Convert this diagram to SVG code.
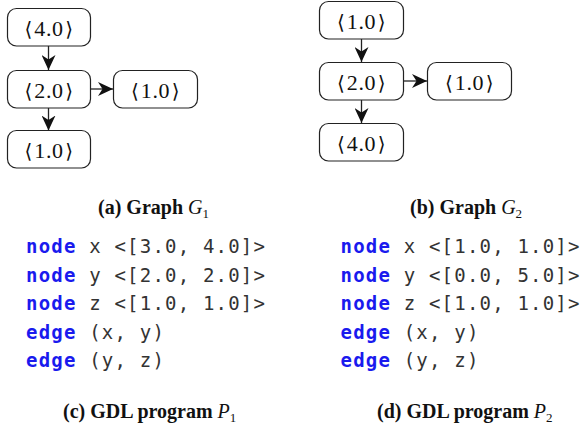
<svg xmlns="http://www.w3.org/2000/svg" width="580" height="434" viewBox="0 0 580 434">
<style>
.box{fill:#fff;stroke:#222;stroke-width:1.2}
.lbl{font-family:"Liberation Serif",serif;font-size:22px;fill:#111;text-anchor:middle;letter-spacing:0.6px}
.br{font-family:"DejaVu Serif",serif;font-size:20px}
.edge{stroke:#222;stroke-width:1.3;fill:none;marker-end:url(#ah)}
.cap{font-family:"Liberation Serif","DejaVu Serif",serif;font-size:20px;font-weight:bold;fill:#111}
.it{font-style:italic;font-weight:normal}
.sub{font-size:13px;font-weight:normal}
.code{font-family:"DejaVu Sans Mono",monospace;font-size:19px;letter-spacing:1.2px;fill:#333;white-space:pre}
.kw{fill:#1a1aee;font-weight:bold}
</style>
<defs>
<marker id="ah" viewBox="0 0 15 14" refX="15" refY="7" markerWidth="15" markerHeight="14" markerUnits="userSpaceOnUse" orient="auto">
<path d="M0,0 L15,7 L0,14 L4.5,7 Z" fill="#111"/>
</marker>
</defs>
<g id="connectors">
<line class="edge" x1="48.5" y1="46" x2="48.5" y2="70"/>
<line class="edge" x1="90.5" y1="89" x2="113" y2="89"/>
<line class="edge" x1="48.5" y1="108" x2="48.5" y2="130.5"/>
<line class="edge" x1="361.5" y1="39" x2="361.5" y2="62"/>
<line class="edge" x1="403.5" y1="81" x2="427" y2="81"/>
<line class="edge" x1="361.5" y1="100" x2="361.5" y2="123"/>
</g>
<g id="g1_n1"><rect class="box" x="7.5" y="8.5" width="83" height="37.5" rx="9"/><text class="lbl" x="49" y="35.5"><tspan class="br">⟨</tspan><tspan dx="1.5">4.0</tspan><tspan class="br" dx="1.5">⟩</tspan></text></g>
<g id="g1_n2"><rect class="box" x="7.5" y="70.5" width="83" height="37.5" rx="9"/><text class="lbl" x="49" y="97.5"><tspan class="br">⟨</tspan><tspan dx="1.5">2.0</tspan><tspan class="br" dx="1.5">⟩</tspan></text></g>
<g id="g1_n3"><rect class="box" x="113.5" y="70.5" width="84" height="37.5" rx="9"/><text class="lbl" x="155.5" y="97.5"><tspan class="br">⟨</tspan><tspan dx="1.5">1.0</tspan><tspan class="br" dx="1.5">⟩</tspan></text></g>
<g id="g1_n4"><rect class="box" x="7.5" y="130.5" width="83" height="37.5" rx="9"/><text class="lbl" x="49" y="157.5"><tspan class="br">⟨</tspan><tspan dx="1.5">1.0</tspan><tspan class="br" dx="1.5">⟩</tspan></text></g>
<g id="g2_n1"><rect class="box" x="319.5" y="1.5" width="84" height="37.5" rx="9"/><text class="lbl" x="361.5" y="28.5"><tspan class="br">⟨</tspan><tspan dx="1.5">1.0</tspan><tspan class="br" dx="1.5">⟩</tspan></text></g>
<g id="g2_n2"><rect class="box" x="319.5" y="62.5" width="84" height="37.5" rx="9"/><text class="lbl" x="361.5" y="89.5"><tspan class="br">⟨</tspan><tspan dx="1.5">2.0</tspan><tspan class="br" dx="1.5">⟩</tspan></text></g>
<g id="g2_n3"><rect class="box" x="427.5" y="62.5" width="84" height="37.5" rx="9"/><text class="lbl" x="469.5" y="89.5"><tspan class="br">⟨</tspan><tspan dx="1.5">1.0</tspan><tspan class="br" dx="1.5">⟩</tspan></text></g>
<g id="g2_n4"><rect class="box" x="319.5" y="123.5" width="84" height="37.5" rx="9"/><text class="lbl" x="361.5" y="150.5"><tspan class="br">⟨</tspan><tspan dx="1.5">4.0</tspan><tspan class="br" dx="1.5">⟩</tspan></text></g>
<g id="captions">
<text class="cap" x="98" y="214">(a) Graph <tspan class="it">G</tspan><tspan class="sub" dy="4">1</tspan></text>
<text class="cap" x="410" y="214">(b) Graph <tspan class="it">G</tspan><tspan class="sub" dy="4">2</tspan></text>
<text class="cap" x="63" y="418">(c) GDL program <tspan class="it">P</tspan><tspan class="sub" dy="4">1</tspan></text>
<text class="cap" x="377" y="418">(d) GDL program <tspan class="it">P</tspan><tspan class="sub" dy="4">2</tspan></text>
</g>
<g id="program1" class="code">
<text x="26" y="253"><tspan class="kw">node</tspan> x &lt;[3.0, 4.0]&gt;</text>
<text x="26" y="281.5"><tspan class="kw">node</tspan> y &lt;[2.0, 2.0]&gt;</text>
<text x="26" y="310"><tspan class="kw">node</tspan> z &lt;[1.0, 1.0]&gt;</text>
<text x="26" y="338.5"><tspan class="kw">edge</tspan> (x, y)</text>
<text x="26" y="367"><tspan class="kw">edge</tspan> (y, z)</text>
</g>
<g id="program2" class="code">
<text x="340.5" y="253"><tspan class="kw">node</tspan> x &lt;[1.0, 1.0]&gt;</text>
<text x="340.5" y="281.5"><tspan class="kw">node</tspan> y &lt;[0.0, 5.0]&gt;</text>
<text x="340.5" y="310"><tspan class="kw">node</tspan> z &lt;[1.0, 1.0]&gt;</text>
<text x="340.5" y="338.5"><tspan class="kw">edge</tspan> (x, y)</text>
<text x="340.5" y="367"><tspan class="kw">edge</tspan> (y, z)</text>
</g>
</svg>
